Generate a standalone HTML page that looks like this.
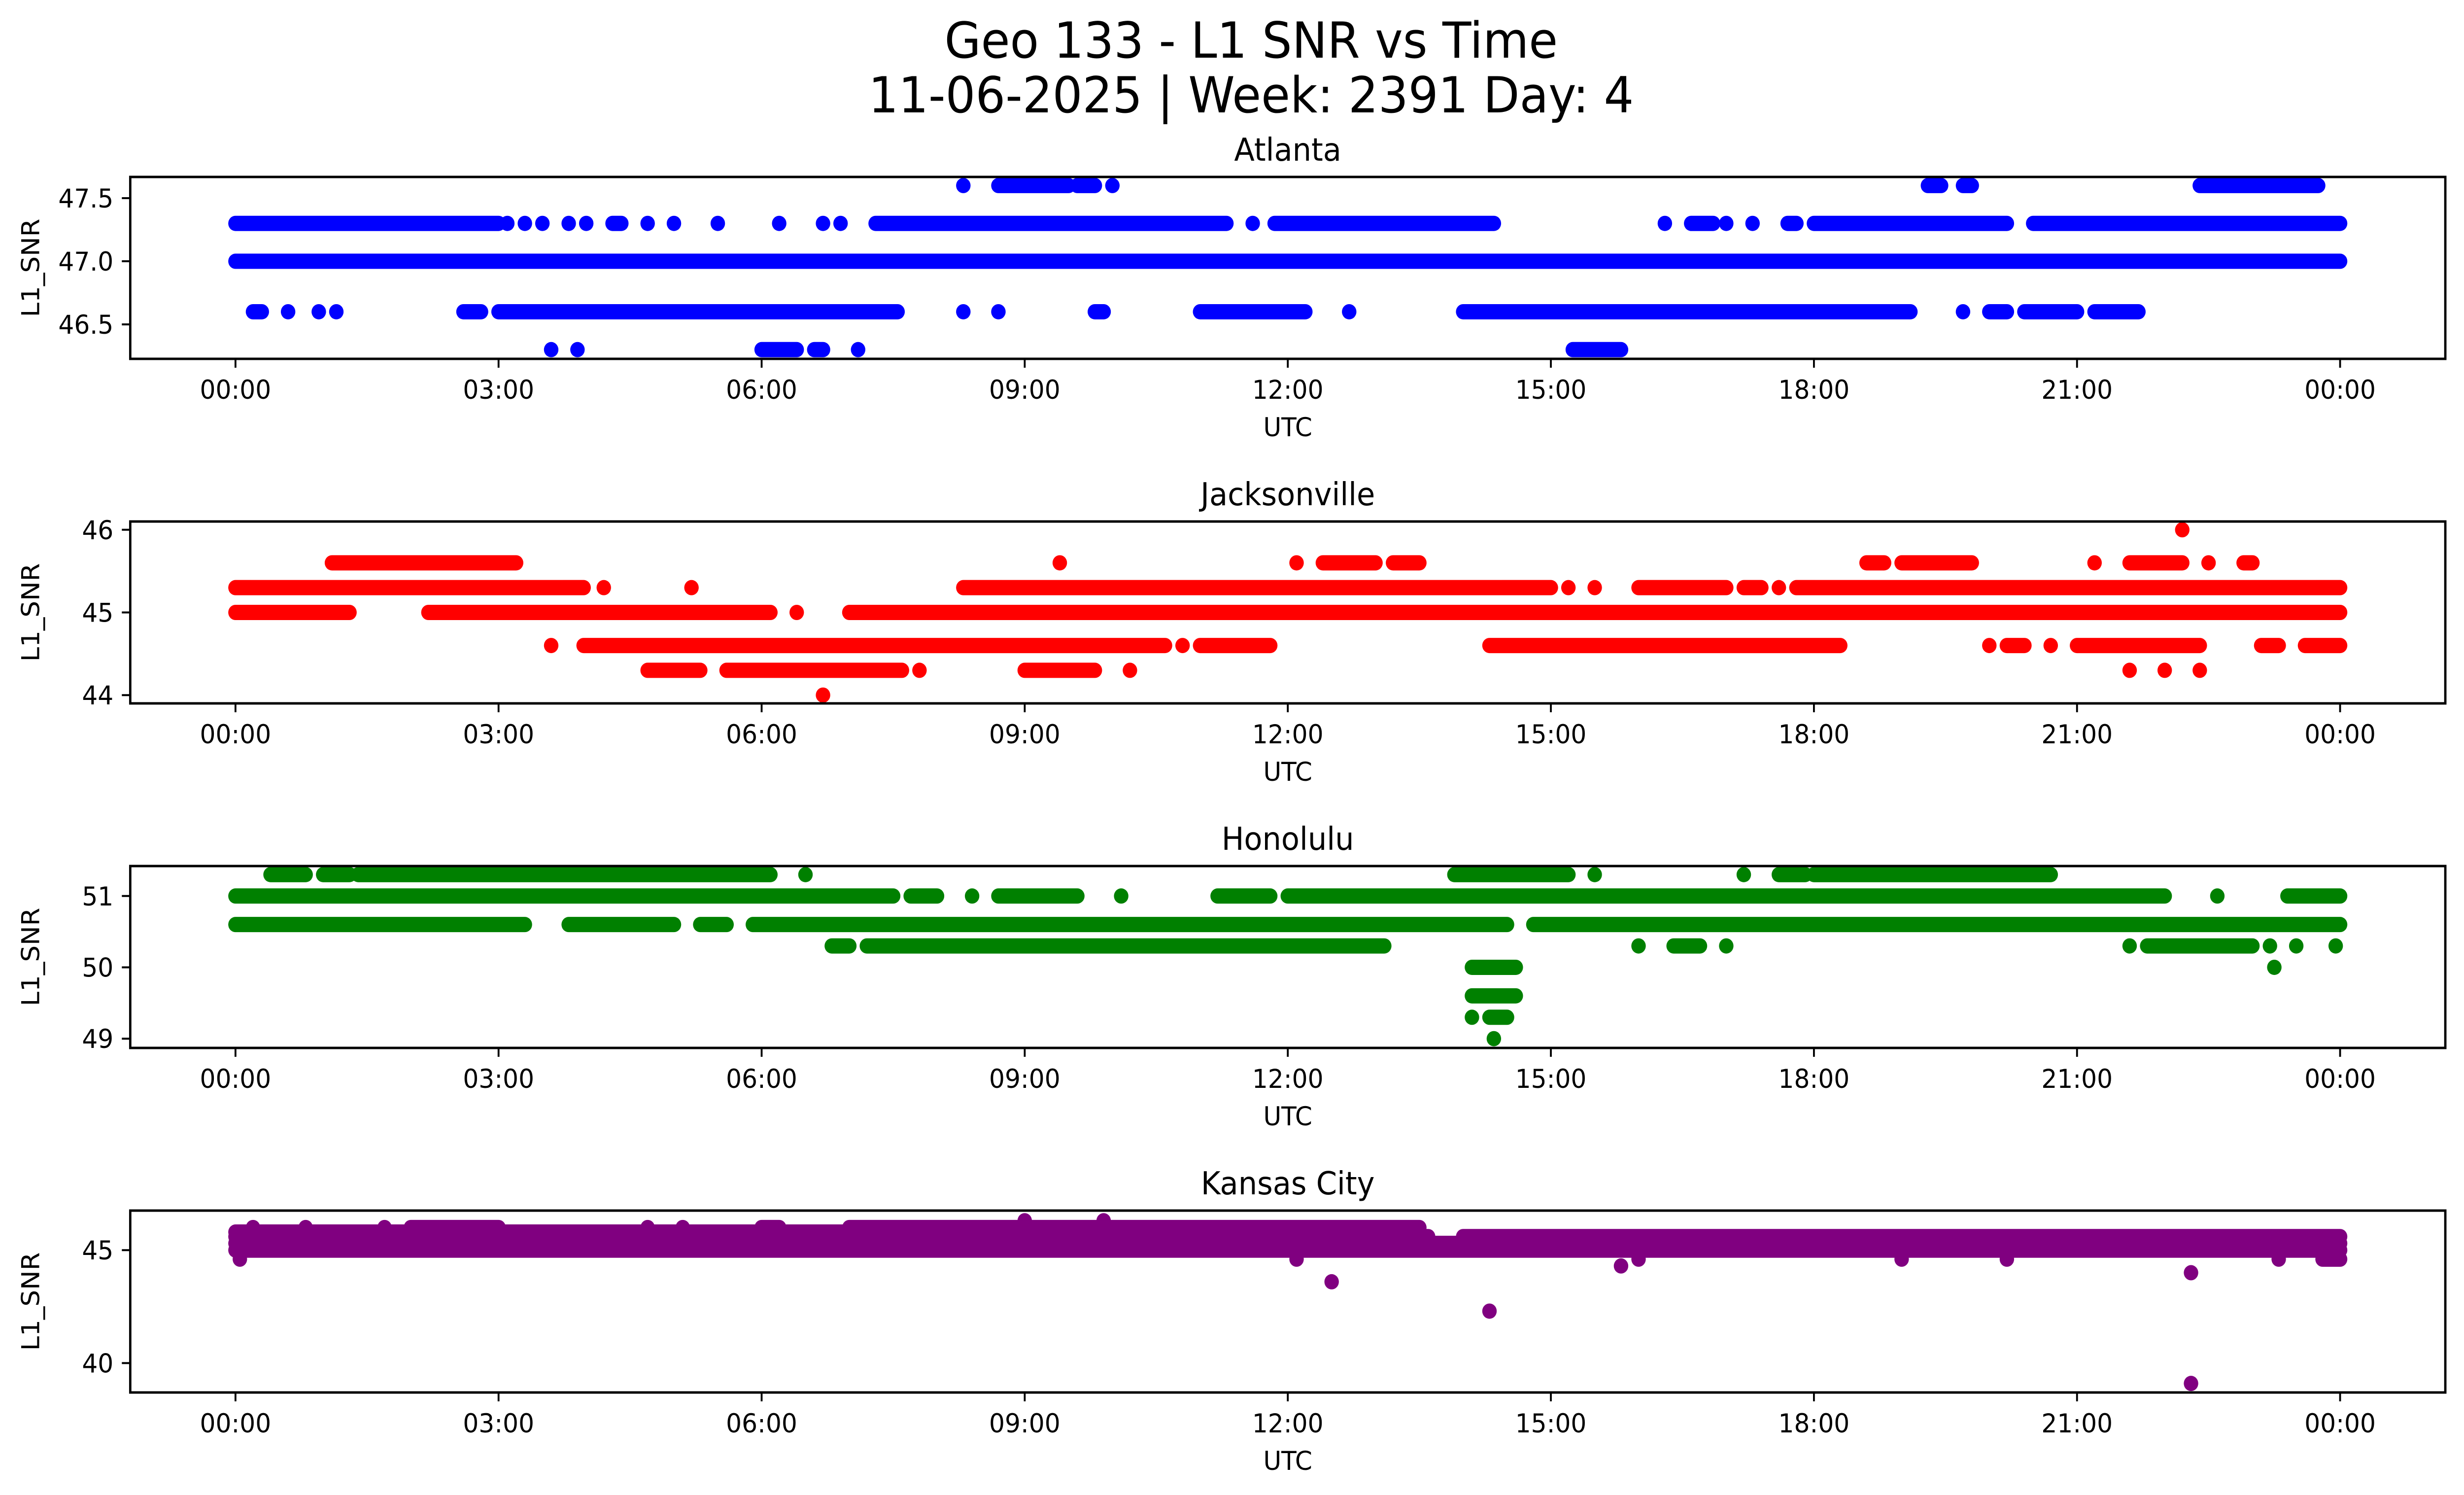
<!DOCTYPE html>
<html><head><meta charset="utf-8"><title>Geo 133 - L1 SNR vs Time</title>
<style>html,body{margin:0;padding:0;background:#fff;width:100%;height:100%;overflow:hidden}svg{display:block;width:100vw;height:100vh}</style></head>
<body>
<svg id="fig" viewBox="0 0 5278 3033" preserveAspectRatio="none" xmlns="http://www.w3.org/2000/svg" font-family="DejaVu Sans, Liberation Sans, sans-serif">
<rect width="5278" height="3033" fill="#fff"/>
<text x="2680" y="117" font-size="101" text-anchor="middle">Geo 133 - L1 SNR vs Time</text>
<text x="2680" y="228" font-size="101" text-anchor="middle">11-06-2025 | Week: 2391 Day: 4</text>
</svg>
<script>
// ---- data: each series = list of [snr level, start hour, end hour] runs (start==end = single point)
const xTickLabels = ["00:00","03:00","06:00","09:00","12:00","15:00","18:00","21:00","00:00"];
const xTickHours = [0,3,6,9,12,15,18,21,24];
const stations = ["Atlanta","Jacksonville","Honolulu","Kansas City"];
const colors = ["#0000ff","#ff0000","#008000","#800080"];
const yLimits = [[46.227,47.668],[43.9,46.1],[48.87,51.42],[38.7,46.75]];
const yTicks = [[46.5,47.0,47.5],[44,45,46],[49,50,51],[40,45]];
const yTickLabels = [["46.5","47.0","47.5"],["44","45","46"],["49","50","51"],["40","45"]];
const atlanta = [
 [47.0,0,24],
 [47.3,0,3.0],[47.3,3.1,3.1],[47.3,3.3,3.3],[47.3,3.5,3.5],[47.3,3.8,3.8],[47.3,4.0,4.0],[47.3,4.3,4.4],[47.3,4.7,4.7],[47.3,5.0,5.0],[47.3,5.5,5.5],[47.3,6.2,6.2],[47.3,6.7,6.7],[47.3,6.9,6.9],
 [47.3,7.3,11.3],[47.3,11.6,11.6],[47.3,11.85,14.35],[47.3,16.3,16.3],[47.3,16.6,16.85],[47.3,17.0,17.0],[47.3,17.3,17.3],[47.3,17.7,17.8],[47.3,18.0,20.2],[47.3,20.5,24],
 [47.6,8.3,8.3],[47.6,8.7,9.5],[47.6,9.6,9.8],[47.6,10.0,10.0],[47.6,19.3,19.45],[47.6,19.7,19.8],[47.6,22.4,23.75],
 [46.6,0.2,0.3],[46.6,0.6,0.6],[46.6,0.95,0.95],[46.6,1.15,1.15],[46.6,2.6,2.8],[46.6,3.0,7.55],[46.6,8.3,8.3],[46.6,8.7,8.7],[46.6,9.8,9.9],[46.6,11.0,12.2],[46.6,12.7,12.7],[46.6,14.0,19.1],[46.6,19.7,19.7],[46.6,20.0,20.2],[46.6,20.4,21.0],[46.6,21.2,21.7],
 [46.3,3.6,3.6],[46.3,3.9,3.9],[46.3,6.0,6.4],[46.3,6.6,6.7],[46.3,7.1,7.1],[46.3,15.25,15.8]
];
const jacksonville = [
 [45.3,0,3.97],[45.3,4.2,4.2],[45.3,5.2,5.2],[45.3,8.3,15.0],[45.3,15.2,15.2],[45.3,15.5,15.5],[45.3,16.0,17.0],[45.3,17.2,17.4],[45.3,17.6,17.6],[45.3,17.8,24],
 [45.6,1.1,3.2],[45.6,9.4,9.4],[45.6,12.1,12.1],[45.6,12.4,13.0],[45.6,13.2,13.5],[45.6,18.6,18.8],[45.6,19.0,19.8],[45.6,21.2,21.2],[45.6,21.6,22.2],[45.6,22.5,22.5],[45.6,22.9,23.0],
 [46.0,22.2,22.2],
 [45.0,0,1.3],[45.0,2.2,6.1],[45.0,6.4,6.4],[45.0,7.0,24],
 [44.6,3.6,3.6],[44.6,3.97,10.6],[44.6,10.8,10.8],[44.6,11.0,11.8],[44.6,14.3,18.3],[44.6,20.0,20.0],[44.6,20.2,20.4],[44.6,20.7,20.7],[44.6,21.0,22.4],[44.6,23.1,23.3],[44.6,23.6,24],
 [44.3,4.7,5.3],[44.3,5.6,7.6],[44.3,7.8,7.8],[44.3,9.0,9.8],[44.3,10.2,10.2],[44.3,21.6,21.6],[44.3,22.0,22.0],[44.3,22.4,22.4],
 [44.0,6.7,6.7]
];
const honolulu = [
 [51.3,0.4,0.8],[51.3,1.0,1.3],[51.3,1.4,6.1],[51.3,6.5,6.5],[51.3,13.9,15.2],[51.3,15.5,15.5],[51.3,17.2,17.2],[51.3,17.6,17.9],[51.3,18.0,20.7],
 [51.0,0,7.5],[51.0,7.7,8.0],[51.0,8.4,8.4],[51.0,8.7,9.6],[51.0,10.1,10.1],[51.0,11.2,11.8],[51.0,12.0,22.0],[51.0,22.6,22.6],[51.0,23.4,24],
 [50.6,0,3.3],[50.6,3.8,5.0],[50.6,5.3,5.6],[50.6,5.9,14.5],[50.6,14.8,24],
 [50.3,6.8,7.0],[50.3,7.2,13.1],[50.3,16.0,16.0],[50.3,16.4,16.7],[50.3,17.0,17.0],[50.3,21.6,21.6],[50.3,21.8,23.0],[50.3,23.2,23.2],[50.3,23.5,23.5],[50.3,23.95,23.95],
 [50.0,14.1,14.6],[50.0,23.25,23.25],
 [49.6,14.1,14.6],
 [49.3,14.1,14.1],[49.3,14.3,14.5],
 [49.0,14.35,14.35]
];
const kansas = [
 [45.0,0,24],[45.3,0,24],[45.6,0,13.6],[45.6,14.0,24],[45.8,0,13.5],
 [46.0,0.2,0.2],[46.0,0.8,0.8],[46.0,1.7,1.7],[46.0,2.0,3.0],[46.0,4.7,4.7],[46.0,5.1,5.1],[46.0,6.0,6.2],[46.0,7.0,13.5],[46.3,9.0,9.0],[46.3,9.9,9.9],
 [44.6,0.05,0.05],[44.6,12.1,12.1],[43.6,12.5,12.5],[42.3,14.3,14.3],[44.3,15.8,15.8],[44.6,16.0,16.0],[44.6,19.0,19.0],[44.6,20.2,20.2],[44.0,22.3,22.3],[39.1,22.3,22.3],[44.6,23.3,23.3],[44.6,23.8,24]
];
const seriesData = [atlanta, jacksonville, honolulu, kansas];

// ---- layout
const NS = "http://www.w3.org/2000/svg";
const svg = document.getElementById("fig");
const L = 279, R = 5238, H = 369, tops = [359, 1058, 1757, 2456];
const xMin = -1.2, xMax = 25.2, R_DOT = 15.5;
function mk(tag, attrs, parent) {
  const e = document.createElementNS(NS, tag);
  for (const k in attrs) e.setAttribute(k, attrs[k]);
  (parent || svg).appendChild(e);
  return e;
}
function xScale(h) { return L + (h - xMin) / (xMax - xMin) * (R - L); }

stations.forEach((name, i) => {
  const top = tops[i], bot = top + H;
  const [y0, y1] = yLimits[i];
  const yScale = v => bot - (v - y0) / (y1 - y0) * H;
  const slug = name.toLowerCase().replace(/\s+/g, "-");
  const g = mk("g", {});
  
  

  const t = mk("text", {x: (L + R) / 2, y: top - 33, "font-size": 64, "text-anchor": "middle"}, g);
  
  
  t.textContent = name;

  const marks = mk("g", {fill: colors[i], stroke: colors[i]}, g);
  
  
  seriesData[i].forEach(run => {
    const [v, a, b] = run;
    const y = yScale(v);
    if (a === b) {
      const c = mk("ellipse", {cx: xScale(a), cy: y, rx: R_DOT, ry: R_DOT, stroke: "none"}, marks);
      
      
    } else {
      const ln = mk("line", {x1: xScale(a), y1: y, x2: xScale(b), y2: y, "stroke-width": 2 * R_DOT, "stroke-linecap": "round"}, marks);
      
      
    }
  });

  const fr = mk("rect", {x: L, y: top, width: R - L, height: H, fill: "none", stroke: "#000", "stroke-width": 5}, g);
  
  

  xTickHours.forEach((h, k) => {
    const x = xScale(h);
    const tk = mk("line", {x1: x, y1: bot, x2: x, y2: bot + 18, stroke: "#000", "stroke-width": 4}, g);
    
    
    const lb = mk("text", {x: x, y: bot + 81, "font-size": 53, "text-anchor": "middle"}, g);
    
    
    lb.textContent = xTickLabels[k];
  });
  const xl = mk("text", {x: (L + R) / 2, y: bot + 157, "font-size": 53, "text-anchor": "middle"}, g);
  
  
  xl.textContent = "UTC";

  yTicks[i].forEach((v, k) => {
    const y = yScale(v);
    const tk = mk("line", {x1: L - 18, y1: y, x2: L, y2: y, stroke: "#000", "stroke-width": 4}, g);
    
    
    const lb = mk("text", {x: L - 36, y: y + 19, "font-size": 53, "text-anchor": "end"}, g);
    
    
    lb.textContent = yTickLabels[i][k];
  });
  const yc = top + H / 2;
  const yl = mk("text", {x: 0, y: 0, "font-size": 53, "text-anchor": "middle", transform: "translate(84," + yc + ") rotate(-90)"}, g);
  
  
  yl.textContent = "L1_SNR";
});
</script>
</body></html>
